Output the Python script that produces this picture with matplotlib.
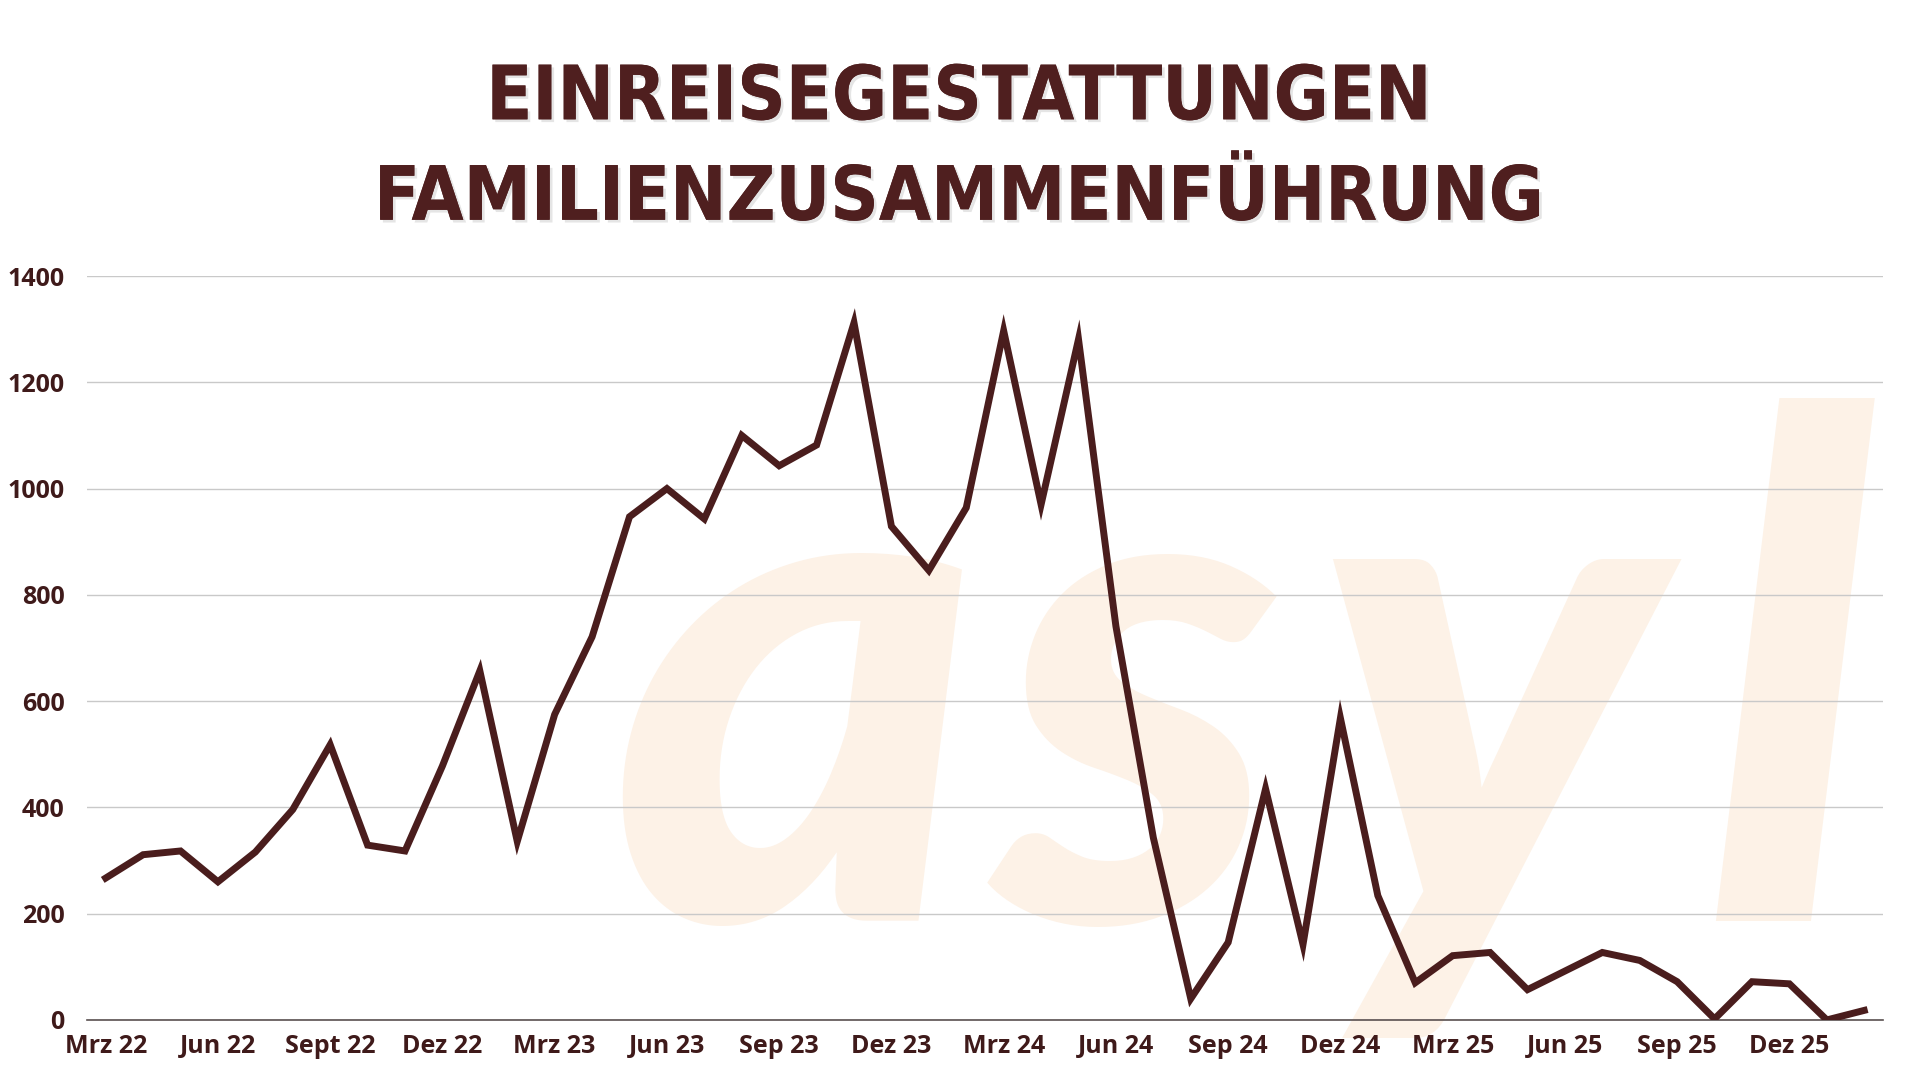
import matplotlib
matplotlib.use("Agg")
import matplotlib.pyplot as plt
import matplotlib.patheffects as pe
from matplotlib import font_manager

months = ["Mrz 22", "Apr 22", "Mai 22", "Jun 22", "Jul 22", "Aug 22", "Sept 22", "Okt 22",
          "Nov 22", "Dez 22", "Jan 23", "Feb 23", "Mrz 23", "Apr 23", "Mai 23", "Jun 23",
          "Jul 23", "Aug 23", "Sep 23", "Okt 23", "Nov 23", "Dez 23", "Jan 24", "Feb 24",
          "Mrz 24", "Apr 24", "Mai 24", "Jun 24", "Jul 24", "Aug 24", "Sep 24", "Okt 24",
          "Nov 24", "Dez 24", "Jan 25", "Feb 25", "Mrz 25", "Apr 25", "Mai 25", "Jun 25",
          "Jul 25", "Aug 25", "Sep 25", "Okt 25", "Nov 25", "Dez 25", "Jan 26", "Feb 26"]
values = [267, 311, 318, 260, 316, 396, 518, 329, 318, 478, 657, 336, 575, 721, 947, 1000,
          943, 1100, 1043, 1082, 1312, 929, 846, 964, 1297, 970, 1281, 741, 343, 40, 146, 435,
          142, 568, 234, 70, 121, 127, 57, 92, 127, 112, 72, 2, 72, 68, 0, 18]
tick_idx = list(range(0, 48, 3))
tick_labels = [months[i] for i in tick_idx]
yticks = [0, 200, 400, 600, 800, 1000, 1200, 1400]
title_lines = ["EINREISEGESTATTUNGEN", "FAMILIENZUSAMMENFÜHRUNG"]
watermark_letters = ["a", "s", "y", "l"]

DARK = "#4a1d1d"
TXT = "#3f1a1a"

avail = {f.name for f in font_manager.fontManager.ttflist}
wm_family = "Lato" if "Lato" in avail else "DejaVu Sans"

fig = plt.figure(figsize=(19.2, 10.8), dpi=100)
fig.patch.set_facecolor("white")

# watermark (logo letters placed individually)
wm_x = [0.4146, 0.5932, 0.7748, 0.9316]
for ch, xx in zip(watermark_letters, wm_x):
    fig.text(xx, 0.147, ch, fontsize=505, family=wm_family, fontweight="black",
             fontstyle="italic", color="#fdf2e7", ha="center", va="baseline", zorder=-5)

ax = fig.add_axes([0.0453, 0.0556, 0.9354, 0.6888])
ax.patch.set_alpha(0)
x = list(range(len(values)))
ax.plot(x, values, color=DARK, lw=5.0, solid_joinstyle="miter", zorder=3)
ax.set_xlim(-0.5, 47.5)
ax.set_ylim(0, 1400)
ax.set_yticks(yticks)
ax.set_yticklabels([str(v) for v in yticks])
ax.set_xticks(tick_idx)
ax.set_xticklabels(tick_labels)
ax.grid(axis="y", color="#c9c9c9", lw=1.0)
ax.set_axisbelow(True)
for s in ["top", "right", "left"]:
    ax.spines[s].set_visible(False)
ax.spines["bottom"].set_color("#5a5050")
ax.spines["bottom"].set_linewidth(1.2)
ax.tick_params(axis="both", length=0, colors=TXT)
ax.tick_params(axis="y", pad=16)
ax.tick_params(axis="x", pad=10)
for lab in ax.get_xticklabels() + ax.get_yticklabels():
    lab.set_fontfamily("Open Sans")
    lab.set_fontweight("bold")
    lab.set_fontsize(18)

shadow = [pe.withSimplePatchShadow(offset=(2, -2), shadow_rgbFace="#aaaaaa", alpha=0.3), pe.Normal()]
fig.text(0.5, 0.9085, title_lines[0], ha="center", va="center", fontsize=54,
         family="DejaVu Sans", fontweight="bold", fontstretch="condensed", color="#4f1f1f",
         path_effects=shadow)
fig.text(0.5, 0.8155, title_lines[1], ha="center", va="center", fontsize=54,
         family="DejaVu Sans", fontweight="bold", fontstretch="condensed", color="#4f1f1f",
         path_effects=shadow)

fig.savefig("out.png", dpi=100)
